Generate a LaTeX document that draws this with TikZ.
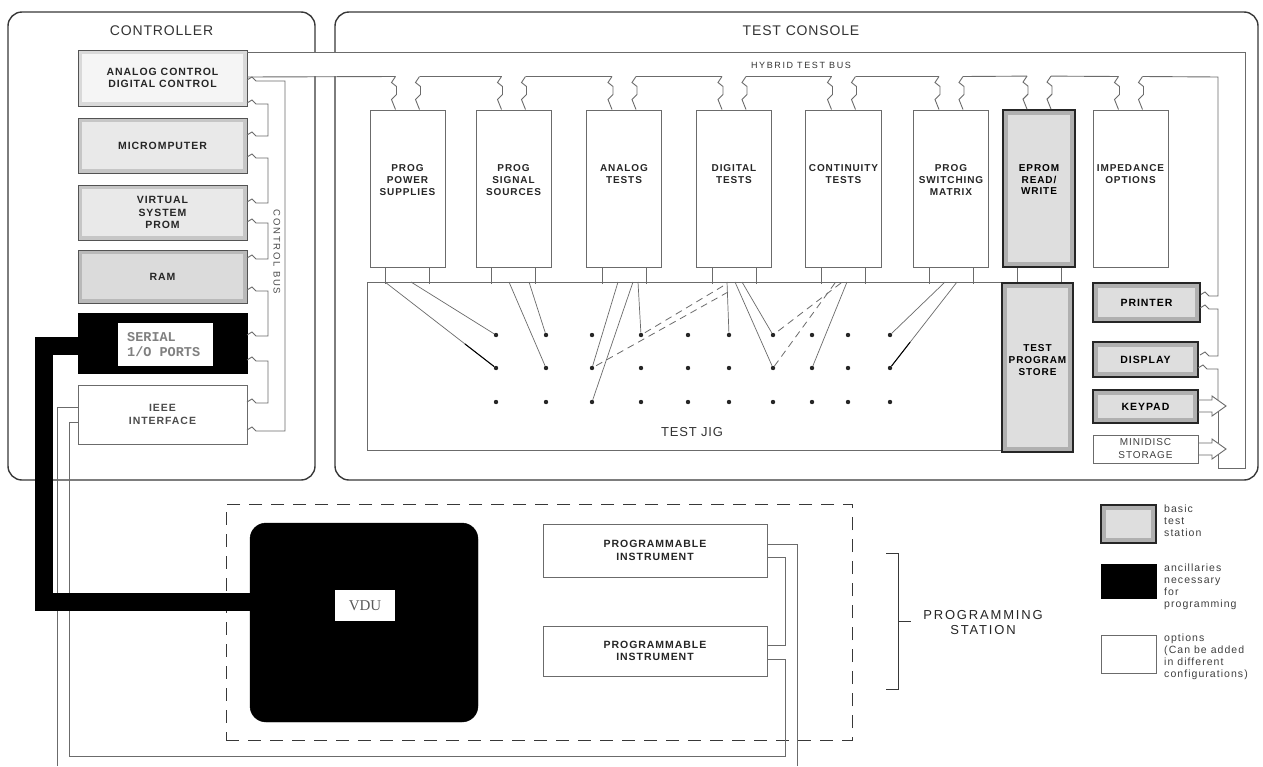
\documentclass[tikz,border=0pt]{standalone}
\usepackage{fontspec}
\setmainfont{Liberation Sans}
\newfontfamily\ttlf[LetterSpace=6]{Liberation Sans}
\newfontfamily\lblf[LetterSpace=9]{Liberation Sans}
\newfontfamily\busf[LetterSpace=18]{Liberation Sans}
\newfontfamily\legf[LetterSpace=10]{Liberation Sans}
\newfontfamily\psf[LetterSpace=14]{Liberation Sans}
\newfontfamily\monof{Liberation Mono}
\newfontfamily\vduf{Liberation Serif}
\usetikzlibrary{calc}
\definecolor{ink}{gray}{0.22}
\definecolor{lne}{gray}{0.42}
\tikzset{
  frame/.style={draw=ink, line width=1.4pt, rounded corners=14pt, inner sep=0pt},
  optbox/.style={draw=lne, line width=1pt, fill=white, inner sep=0pt},
  glow/.style n args={3}{fill=#1, path picture={\fill[#2] ([shift={(#3,#3)}]path picture bounding box.south west) rectangle ([shift={(-#3,-#3)}]path picture bounding box.north east);}},
  basicbox/.style={draw=black!85, line width=1.8pt, glow={gray!62}{gray!26}{5pt}, inner sep=0pt},
  lightbox/.style 2 args={draw=gray!65!black, line width=1pt, glow={#1}{#2}{4pt}, inner sep=0pt},
  blackbox/.style={draw=black, fill=black, inner sep=0pt},
  mlab/.style={font=\lblf\bfseries\fontsize{10}{11.8}\selectfont, text=black!85, align=center, inner sep=0pt},
  clab/.style={font=\lblf\bfseries\fontsize{10.5}{12.5}\selectfont, text=black!85, align=center},
  ilab/.style={font=\lblf\bfseries\fontsize{10.5}{12.5}\selectfont, text=black!85, align=center},
  ttl/.style={font=\ttlf\fontsize{14}{16}\selectfont, text=black!80},
  leg/.style={font=\legf\fontsize{10.5}{12}\selectfont, text=black!75, align=left, inner sep=0pt},
  wire/.style={draw=lne, line width=0.7pt},
  bus/.style={draw=lne, line width=0.9pt},
  dwire/.style={draw=lne, line width=0.8pt, dash pattern=on 7pt off 5pt},
  jdot/.style={circle, fill=black!85, inner sep=0pt, minimum size=4.4pt},
}
\newcommand\chainseg[4]{\draw[bus] (#1,#2) -- ++(5,-3) -- ++(4,4) -- (#4,#2+1) -- (#4,#3+1) -- (#1+9,#3+1) -- ++(-4,-4) -- ++(-5,3);}
\begin{document}
\begin{tikzpicture}[x=1pt,y=-1pt]
\fill[white] (0,0) rectangle (1263,766);
\useasboundingbox (0,0) rectangle (1263,766);

% frames
\node[frame, minimum width=307pt, minimum height=468pt] (ctrl) at (161.5,246) {};
\node[frame, minimum width=923pt, minimum height=468pt] (cons) at (796.5,246) {};
\node[ttl] (ctrlt) at (161.5,31) {CONTROLLER};
\node[ttl] (const) at (801,31) {TEST CONSOLE};

% gap for hybrid bus
\fill[white] (248,53) rectangle (1244,76);

% controller boxes
\node[lightbox={gray!30}{gray!8}, minimum width=169pt, minimum height=56pt, clab] (ana) at (162.5,78) {ANALOG CONTROL\\DIGITAL CONTROL};
\node[lightbox={gray!45}{gray!17}, minimum width=169pt, minimum height=55pt, clab] (mic) at (162.5,145.5) {MICROMPUTER};
\node[lightbox={gray!45}{gray!17}, minimum width=169pt, minimum height=55pt, clab] (vsp) at (162.5,212.5) {VIRTUAL\\SYSTEM\\PROM};
\node[lightbox={gray!55}{gray!28}, minimum width=169pt, minimum height=53pt, clab] (ram) at (162.5,276.5) {RAM};
\node[blackbox, minimum width=169pt, minimum height=60pt] (ser) at (162.5,343) {};
\node[fill=white, inner sep=0pt, minimum width=95pt, minimum height=43pt] (serw) at (165.5,344.5) {};
\node[anchor=west, align=left, inner sep=0pt, font=\monof\bfseries\fontsize{13.5}{15}\selectfont, text=black!50] (sert) at (127,345) {SERIAL\\1/O PORTS};
\node[optbox, minimum width=169pt, minimum height=59pt, clab, text=black!70] (iee) at (162.5,414.5) {IEEE\\INTERFACE};

% control bus
\chainseg{247}{80}{430}{285}
\chainseg{247}{103}{135}{268}
\chainseg{247}{157}{202}{268}
\chainseg{247}{222}{258}{268}
\chainseg{247}{290}{335}{268}
\chainseg{247}{360}{402}{268}
\node[rotate=-90, font=\busf\fontsize{9.5}{10}\selectfont, text=black!70] (cbus) at (277,252) {CONTROL BUS};

% test console modules
\node[optbox, minimum width=75pt, minimum height=157pt] (m1) at (407.5,188.5) {};
\node[optbox, minimum width=75pt, minimum height=157pt] (m2) at (513.5,188.5) {};
\node[optbox, minimum width=75pt, minimum height=157pt] (m3) at (624,188.5) {};
\node[optbox, minimum width=75pt, minimum height=157pt] (m4) at (734,188.5) {};
\node[optbox, minimum width=76pt, minimum height=157pt] (m5) at (843.5,188.5) {};
\node[optbox, minimum width=75pt, minimum height=157pt] (m6) at (951,188.5) {};
\node[basicbox, minimum width=72pt, minimum height=157pt] (m7) at (1039,188.5) {};
\node[optbox, minimum width=75pt, minimum height=157pt] (m8) at (1130.5,188.5) {};
\node[mlab, anchor=north] at ($(m1.north)+(0,55)$) {PROG\\POWER\\SUPPLIES};
\node[mlab, anchor=north] at ($(m2.north)+(0,55)$) {PROG\\SIGNAL\\SOURCES};
\node[mlab, anchor=north] at ($(m3.north)+(0,55)$) {ANALOG\\TESTS};
\node[mlab, anchor=north] at ($(m4.north)+(0,55)$) {DIGITAL\\TESTS};
\node[mlab, anchor=north] at ($(m5.north)+(0,55)$) {CONTINUITY\\TESTS};
\node[mlab, anchor=north] at ($(m6.north)+(0,55)$) {PROG\\SWITCHING\\MATRIX};
\node[mlab, anchor=north, text=black] at ($(m7.north)+(0,55)$) {EPROM\\READ/\\WRITE};
\node[mlab, anchor=north] at ($(m8.north)+(0,55)$) {IMPEDANCE\\OPTIONS};

% hybrid test bus
\draw[bus] (247,52) -- (1245,52) -- (1245,468) -- (1218,468) -- (1218,454.7);
\draw[bus] (247,77) -- ($(m1.north)+(-12,-33)$);
\foreach \a/\b in {m1/m2,m2/m3,m3/m4,m4/m5,m5/m6,m6/m7,m7/m8}
  \draw[bus] ($(\a.north)+(12,-33)$) -- ($(\b.north)+(-12,-33)$);
\draw[bus] ($(m8.north)+(12,-33)$) -- (1218,77) -- (1218,296) -- (1209,296) -- ++(-4,-4) -- ++(-5,3);
\foreach \m in {m1,m2,m3,m4,m5,m6,m7,m8}{
  \foreach \dx in {-12,12}{
    \draw[bus] ($(\m.north)+(\dx,-33)$) -- ++(-4,6) -- ++(5,4) -- ++(0,8) -- ++(-5,5) -- ($(\m.north)+(\dx,0)$);
  }
}
\node[font=\busf\fontsize{9}{10}\selectfont, text=black!80] (hbus) at (801,65) {HYBRID TEST BUS};

% test jig
\node[draw=lne, line width=0.9pt, inner sep=0pt, minimum width=635pt, minimum height=168pt] (jig) at (684.5,366) {};
\node[font=\ttlf\fontsize{13}{14}\selectfont, text=black!80] (jigt) at (692,432) {TEST JIG};
\foreach \m in {m1,m2,m3,m4,m5,m6,m7}{
  \foreach \dx in {-22,22}{
    \draw[bus] ($(\m.south)+(\dx,0)$) -- ++(0,16);
  }
}
\foreach \x [count=\c] in {496,546,592,641,688,729,773,812,848,890}{
  \foreach \y [count=\r] in {335,368,402}{
    \node[jdot] (d\r-\c) at (\x,\y) {};
  }
}
\draw[wire] (385,282) -- (d2-1);
\draw[black, line width=1pt] ($(385,282)!0.72!(d2-1)$) -- (d2-1);
\draw[wire] (411,282) -- (d1-1);
\draw[wire] (509,282) -- (d2-2);
\draw[wire] (529,282) -- (d1-2);
\draw[wire] (618,282) -- (d2-3);
\draw[wire] (633,282) -- (d3-3);
\draw[wire] (638,282) -- (d1-4);
\draw[dwire] (723,286) -- (d1-4);
\draw[dwire] (728,292) -- (d2-3);
\draw[wire] (727,282) -- (d1-6);
\draw[wire] (735,282) -- (d2-7);
\draw[wire] (742,282) -- (d1-7);
\draw[dwire] (835,283) -- (d2-7);
\draw[dwire] (841,283) -- (d1-7);
\draw[wire] (847,282) -- (d2-8);
\draw[wire] (945,282) -- (d1-10);
\draw[wire] (957,282) -- (d2-10);
\draw[black, line width=1pt] ($(957,282)!0.7!(d2-10)$) -- (d2-10);

% right column
\node[basicbox, minimum width=71pt, minimum height=169pt] (tps) at (1037.5,367.5) {};
\node[mlab, text=black] at (1037.5,360) {TEST\\PROGRAM\\STORE};
\node[basicbox, minimum width=107pt, minimum height=39pt, ilab, text=black] (prn) at (1146.5,302.5) {PRINTER};
\node[basicbox, minimum width=105pt, minimum height=35pt, ilab, text=black] (dsp) at (1145.5,359.5) {DISPLAY};
\node[basicbox, minimum width=105pt, minimum height=33pt, ilab, text=black] (kpd) at (1145.5,406.5) {KEYPAD};
\node[optbox, minimum width=105pt, minimum height=28pt, font=\lblf\fontsize{10}{13}\selectfont, text=black!75, align=center] (mds) at (1145.5,449) {MINIDISC\\STORAGE};
\chainseg{1200}{308}{355}{1218}
\draw[bus] (1198,368) -- ++(5,-3) -- ++(4,4) -- (1218,369) -- (1218,400.3);
\draw[bus] (1198,400) -- (1212,400) -- (1212,396) -- (1226,406) -- (1212,416) -- (1212,412) -- (1198,412);
\draw[bus] (1218,411.7) -- (1218,443.3);
\draw[bus] (1198,443) -- (1212,443) -- (1212,439) -- (1226,449) -- (1212,459) -- (1212,455) -- (1198,455);

% programming station
\node[draw=ink, line width=1pt, dash pattern=on 13pt off 9pt, inner sep=0pt, minimum width=626pt, minimum height=236pt] (pst) at (539,622) {};
\node[optbox, minimum width=224pt, minimum height=53pt, ilab] (in1) at (655,550.5) {PROGRAMMABLE\\INSTRUMENT};
\node[optbox, minimum width=224pt, minimum height=50pt, ilab] (in2) at (655,651) {PROGRAMMABLE\\INSTRUMENT};
\draw[bus] (78,407) -- (57,407) -- (57,766);
\draw[bus] (78,422) -- (69,422) -- (69,756) -- (785,756) -- (785,659) -- (767,659);
\draw[bus] (767,557) -- (785,557) -- (785,645) -- (767,645);
\draw[bus] (767,544) -- (797,544) -- (797,766);

% cable and VDU
\draw[black, line width=18pt] (79,346) -- (43.5,346) -- (43.5,602) -- (251,602);
\node[draw=black, fill=black, rounded corners=16pt, inner sep=0pt, minimum width=228pt, minimum height=199pt] (vdu) at (364,622.5) {};
\node[fill=white, inner sep=0pt, minimum width=60pt, minimum height=31pt, font=\vduf\fontsize{15}{15}\selectfont, text=black!65] (vdut) at (365,605.5) {VDU};

% bracket
\draw[ink, line width=1pt] (886,553) -- (898,553) -- (898,689) -- (886,689);
\draw[ink, line width=1pt] (898,621) -- (911,621);
\node[font=\psf\fontsize{13}{15}\selectfont, align=center, text=black!85] (pslab) at (983,623) {PROGRAMMING\\STATION};

% legend
\node[basicbox, minimum width=55pt, minimum height=38pt] (lg1) at (1128.5,524) {};
\node[blackbox, minimum width=55pt, minimum height=34pt] (lg2) at (1128.5,581) {};
\node[optbox, minimum width=55pt, minimum height=38pt] (lg3) at (1128.5,654) {};
\node[leg, anchor=north west] (lt1) at (1164,505) {basic\\test\\station};
\node[leg, anchor=north west] (lt2) at (1164,564) {ancillaries\\necessary\\for\\programming};
\node[leg, anchor=north west] (lt3) at (1164,634) {options\\(Can be added\\in different\\configurations)};
\end{tikzpicture}
\end{document}
